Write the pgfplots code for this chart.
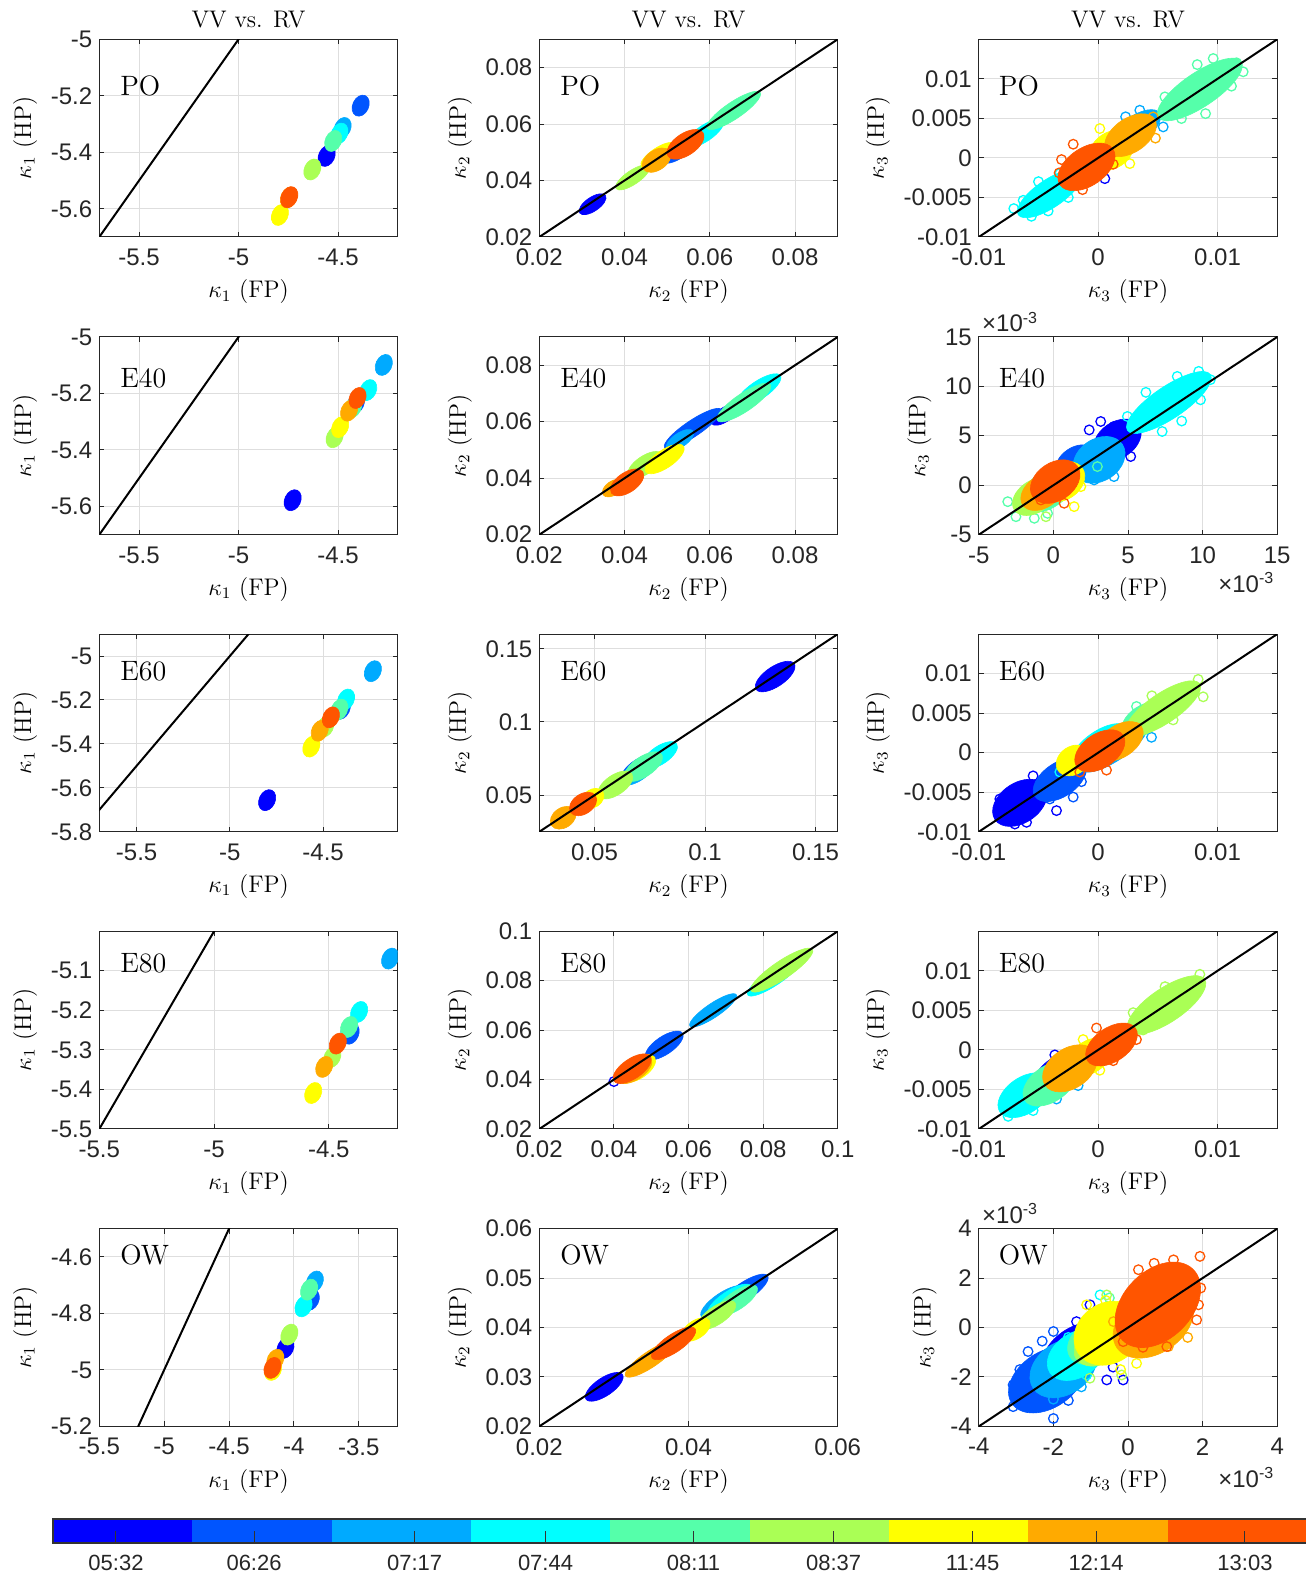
\documentclass[border=0pt]{standalone}
\usepackage{pgfplots}
\pgfplotsset{compat=1.18}
\usepackage{fontspec}
\setsansfont{Liberation Sans}
\definecolor{c1}{RGB}{0,0,255}
\definecolor{c2}{RGB}{0,85,255}
\definecolor{c3}{RGB}{0,170,255}
\definecolor{c4}{RGB}{0,255,255}
\definecolor{c5}{RGB}{85,255,170}
\definecolor{c6}{RGB}{170,255,85}
\definecolor{c7}{RGB}{255,255,0}
\definecolor{c8}{RGB}{255,170,0}
\definecolor{c9}{RGB}{255,85,0}
\tikzset{plab/.style={anchor=base west, inner sep=0pt, font=\fontsize{14}{14}\selectfont}}
\pgfplotsset{
  base/.style={
    scale only axis, width=149.2pt, height=98.85pt, anchor=south west,
    clip mode=individual,
    axis line style={draw=black!85, line width=0.5pt},
    grid=major, major grid style={draw=black!13, line width=0.5pt},
    tick align=inside, major tick length=2.5pt,
    tick style={draw=black!85, line width=0.5pt},
    tick label style={font=\sffamily\fontsize{12}{12}\selectfont, text=black!85},
    xticklabel style={yshift=-2.5pt},
    label style={font=\fontsize{12}{13}\selectfont},
    every axis title/.style={at={(0.5,1)}, anchor=base, yshift=6pt, font=\fontsize{12}{13}\selectfont},
    scaled ticks=false, clip marker paths=true,
  },
  cl/.style n args={4}{only marks, mark=*, mark size=1pt,
    mark options={draw=#1, fill=#1, line width=0.3pt, rotate=#2, xscale=#3, yscale=#4}},
  k1/.style={cl={#1}{65}{5.5}{4}},
  rg/.style={only marks, mark=o, mark size=2.4pt, mark options={draw=#1, line width=0.65pt}},
  diag/.style={black, line width=1pt},
}
\newcommand{\xten}[1]{\node[anchor=base east, inner sep=0pt, font=\sffamily\fontsize{12}{12}\selectfont, text=black!85] at (rel axis cs:0.9916,0) [yshift=#1] {×10\textsuperscript{-3}};
\node[anchor=base west, inner sep=0pt, font=\sffamily\fontsize{12}{12}\selectfont, text=black!85] at (rel axis cs:0.01,1) [yshift=2.5pt] {×10\textsuperscript{-3}};}
\begin{document}
\begin{tikzpicture}
% ================= ROW 1 : PO =================
\begin{axis}[base, at={(49.65pt,669.5pt)}, title={VV vs. RV},
  xmin=-5.7, xmax=-4.2, ymin=-5.7, ymax=-5,
  xtick={-5.5,-5,-4.5}, xticklabels={-5.5,-5,-4.5},
  ytick={-5.6,-5.4,-5.2,-5}, yticklabels={-5.6,-5.4,-5.2,-5},
  xlabel={$\kappa_1$ (FP)}, ylabel={$\kappa_1$ (HP)}]
\addplot[k1=c1] coordinates {(-4.557,-5.413)};
\addplot[k1=c2] coordinates {(-4.386,-5.235)};
\addplot[k1=c3] coordinates {(-4.477,-5.314)};
\addplot[k1=c4] coordinates {(-4.493,-5.334)};
\addplot[k1=c5] coordinates {(-4.524,-5.360)};
\addplot[k1=c6] coordinates {(-4.629,-5.461)};
\addplot[k1=c7] coordinates {(-4.792,-5.622)};
\addplot[k1=c8] coordinates {(-4.747,-5.560)};
\addplot[k1=c9] coordinates {(-4.745,-5.559)};
\addplot[diag] coordinates {(-6,-6) (-4,-4)};
\node[plab] at (rel axis cs:0.069,0.715) {PO};
\end{axis}
\begin{axis}[base, at={(269.65pt,669.5pt)}, title={VV vs. RV},
  xmin=0.02, xmax=0.09, ymin=0.02, ymax=0.09,
  xtick={0.02,0.04,0.06,0.08}, xticklabels={0.02,0.04,0.06,0.08},
  ytick={0.02,0.04,0.06,0.08}, yticklabels={0.02,0.04,0.06,0.08},
  xlabel={$\kappa_2$ (FP)}, ylabel={$\kappa_2$ (HP)}]
\addplot[cl={c1}{34}{7.8}{3.5}] coordinates {(0.0325,0.0316)};
\addplot[cl={c2}{34}{10}{4}] coordinates {(0.0527,0.0507)};
\addplot[cl={c3}{34}{10}{4}] coordinates {(0.0551,0.0531)};
\addplot[cl={c4}{34}{11}{4}] coordinates {(0.0588,0.0567)};
\addplot[cl={c5}{34}{16}{4.2}] coordinates {(0.0656,0.0648)};
\addplot[cl={c6}{34}{10}{3.5}] coordinates {(0.0419,0.0411)};
\addplot[cl={c7}{34}{10}{3.5}] coordinates {(0.0478,0.0490)};
\addplot[cl={c8}{34}{8}{5}] coordinates {(0.0475,0.0472)};
\addplot[cl={c9}{34}{10.5}{5.5}] coordinates {(0.0543,0.0528)};
\addplot[diag] coordinates {(0,0) (0.2,0.2)};
\node[plab] at (rel axis cs:0.069,0.715) {PO};
\end{axis}
\begin{axis}[base, at={(489.4pt,669.5pt)}, title={VV vs. RV},
  xmin=-0.01, xmax=0.015, ymin=-0.01, ymax=0.015,
  xtick={-0.01,0,0.01}, xticklabels={-0.01,0,0.01},
  ytick={-0.01,-0.005,0,0.005,0.01}, yticklabels={-0.01,-0.005,0,0.005,0.01},
  xlabel={$\kappa_3$ (FP)}, ylabel={$\kappa_3$ (HP)}]
\addplot[cl={c1}{34}{12}{6}] coordinates {(-0.00098,-0.00072)};
\addplot[rg=c1] coordinates {(0.00056,-0.00262)};
\addplot[cl={c2}{34}{12}{6}] coordinates {(0.0025,0.0025)};
\addplot[cl={c3}{34}{14}{6.5}] coordinates {(0.0032,0.0037)};
\addplot[rg=c3] coordinates {(0.00545,0.00392) (0.00349,0.00603) (0.00230,0.00520)};
\addplot[cl={c4}{34}{19}{7}] coordinates {(-0.00405,-0.00451)};
\addplot[rg=c4] coordinates {(-0.00707,-0.00641) (-0.00559,-0.00738) (-0.00419,-0.00671) (-0.00628,-0.00536) (-0.00321,-0.00198) (-0.00500,-0.00300) (-0.00250,-0.00500)};
\addplot[cl={c5}{34}{25}{8.5}] coordinates {(0.00852,0.00865)};
\addplot[rg=c5] coordinates {(0.01159,0.01203) (0.01117,0.00907) (0.00698,0.00498) (0.00559,0.00772) (0.00964,0.01257) (0.01215,0.01089) (0.00830,0.01180) (0.00900,0.00560)};
\addplot[cl={c6}{34}{10}{5}] coordinates {(0.0010,0.0015)};
\addplot[cl={c7}{34}{12}{9}] coordinates {(0.00112,0.00097)};
\addplot[rg=c7] coordinates {(0.00014,0.00371) (0.00265,-0.00072)};
\addplot[cl={c8}{34}{14.5}{8.5}] coordinates {(0.00271,0.00287)};
\addplot[rg=c8] coordinates {(0.00461,0.00519) (0.00480,0.00250)};
\addplot[cl={c9}{34}{16}{9.5}] coordinates {(-0.00098,-0.00114)};
\addplot[rg=c9] coordinates {(-0.00307,-0.00021) (-0.00131,-0.00401) (-0.00209,0.00173) (0.00126,-0.0008) (-0.00327,-0.0019)};
\addplot[diag] coordinates {(-0.02,-0.02) (0.02,0.02)};
\node[plab] at (rel axis cs:0.066,0.715) {PO};
\end{axis}
% ================= ROW 2 : E40 =================
\begin{axis}[base, at={(49.65pt,520.65pt)},
  xmin=-5.7, xmax=-4.2, ymin=-5.7, ymax=-5,
  xtick={-5.5,-5,-4.5}, xticklabels={-5.5,-5,-4.5},
  ytick={-5.6,-5.4,-5.2,-5}, yticklabels={-5.6,-5.4,-5.2,-5},
  xlabel={$\kappa_1$ (FP)}, ylabel={$\kappa_1$ (HP)}]
\addplot[k1=c1] coordinates {(-4.728,-5.578)};
\addplot[k1=c2] coordinates {(-4.410,-5.235)};
\addplot[k1=c3] coordinates {(-4.270,-5.099)};
\addplot[k1=c4] coordinates {(-4.348,-5.188)};
\addplot[k1=c5] coordinates {(-4.424,-5.249)};
\addplot[k1=c6] coordinates {(-4.517,-5.355)};
\addplot[k1=c7] coordinates {(-4.489,-5.319)};
\addplot[k1=c8] coordinates {(-4.444,-5.261)};
\addplot[k1=c9] coordinates {(-4.402,-5.216)};
\addplot[diag] coordinates {(-6,-6) (-4,-4)};
\node[plab] at (rel axis cs:0.069,0.747) {E40};
\end{axis}
\begin{axis}[base, at={(269.65pt,520.65pt)},
  xmin=0.02, xmax=0.09, ymin=0.02, ymax=0.09,
  xtick={0.02,0.04,0.06,0.08}, xticklabels={0.02,0.04,0.06,0.08},
  ytick={0.02,0.04,0.06,0.08}, yticklabels={0.02,0.04,0.06,0.08},
  xlabel={$\kappa_2$ (FP)}, ylabel={$\kappa_2$ (HP)}]
\addplot[cl={c1}{34}{8}{3.5}] coordinates {(0.0635,0.0625)};
\addplot[cl={c2}{34}{17}{4}] coordinates {(0.0560,0.0576)};
\addplot[cl={c3}{34}{8}{3.5}] coordinates {(0.0530,0.0535)};
\addplot[cl={c4}{34}{13}{4.5}] coordinates {(0.0715,0.0712)};
\addplot[cl={c5}{34}{16}{4.5}] coordinates {(0.0680,0.0668)};
\addplot[cl={c6}{34}{10}{4.5}] coordinates {(0.0448,0.0447)};
\addplot[cl={c7}{34}{11.4}{4.5}] coordinates {(0.0494,0.0468)};
\addplot[cl={c8}{34}{6}{3.5}] coordinates {(0.0373,0.0365)};
\addplot[cl={c9}{34}{9.5}{5}] coordinates {(0.0406,0.0385)};
\addplot[diag] coordinates {(0,0) (0.2,0.2)};
\node[plab] at (rel axis cs:0.069,0.747) {E40};
\end{axis}
\begin{axis}[base, at={(489.4pt,520.65pt)},
  xmin=-5, xmax=15, ymin=-5, ymax=15,
  xtick={-5,0,5,10,15}, xticklabels={-5,0,5,10,15},
  ytick={-5,0,5,10,15}, yticklabels={-5,0,5,10,15},
  xlabel={$\kappa_3$ (FP)}, ylabel={$\kappa_3$ (HP)}]
\addplot[cl={c1}{34}{13}{9}] coordinates {(4.29,4.59)};
\addplot[rg=c1] coordinates {(3.17,6.45) (5.18,2.91) (4.06,5.95) (4.73,3.92) (2.40,5.60)};
\addplot[cl={c2}{34}{10}{6}] coordinates {(1.39,2.57)};
\addplot[cl={c3}{34}{14}{10.5}] coordinates {(3.06,2.57)};
\addplot[rg=c3] coordinates {(2.73,0.54) (4.06,0.88)};
\addplot[cl={c4}{34}{25}{8}] coordinates {(7.74,8.38)};
\addplot[rg=c4] coordinates {(9.74,11.52) (10.52,10.68) (8.30,11.01) (7.29,5.44) (5.62,5.78) (4.96,6.96) (9.86,8.65) (6.20,9.40) (8.60,6.50)};
\addplot[cl={c5}{34}{15}{9}] coordinates {(-0.39,-0.47)};
\addplot[rg=c5] coordinates {(-3.06,-1.66) (-2.51,-3.18) (-1.28,-3.34) (2.95,1.89) (-0.39,-2.84)};
\addplot[cl={c6}{34}{12}{8}] coordinates {(-1.28,-1.15)};
\addplot[rg=c6] coordinates {(-0.50,-3.18)};
\addplot[cl={c7}{34}{12}{9}] coordinates {(0.61,0.37)};
\addplot[rg=c7] coordinates {(1.39,-2.16) (1.84,-0.14)};
\addplot[cl={c8}{34}{12}{8}] coordinates {(-0.72,-0.64)};
\addplot[cl={c9}{34}{13.5}{9.5}] coordinates {(0.12,0.37)};
\addplot[rg=c9] coordinates {(-0.84,-1.49) (0.72,-1.82)};
\addplot[diag] coordinates {(-10,-10) (20,20)};
\node[plab] at (rel axis cs:0.066,0.747) {E40};
\xten{-29pt}
\end{axis}
% ================= ROW 3 : E60 =================
\begin{axis}[base, at={(49.65pt,372.1pt)},
  xmin=-5.7, xmax=-4.1, ymin=-5.8, ymax=-4.9,
  xtick={-5.5,-5,-4.5}, xticklabels={-5.5,-5,-4.5},
  ytick={-5.8,-5.6,-5.4,-5.2,-5}, yticklabels={-5.8,-5.6,-5.4,-5.2,-5},
  xlabel={$\kappa_1$ (FP)}, ylabel={$\kappa_1$ (HP)}]
\addplot[k1=c1] coordinates {(-4.800,-5.656)};
\addplot[k1=c2] coordinates {(-4.400,-5.240)};
\addplot[k1=c3] coordinates {(-4.233,-5.069)};
\addplot[k1=c4] coordinates {(-4.377,-5.198)};
\addplot[k1=c5] coordinates {(-4.413,-5.244)};
\addplot[k1=c6] coordinates {(-4.488,-5.321)};
\addplot[k1=c7] coordinates {(-4.563,-5.412)};
\addplot[k1=c8] coordinates {(-4.518,-5.340)};
\addplot[k1=c9] coordinates {(-4.458,-5.279)};
\addplot[diag] coordinates {(-6,-6) (-4,-4)};
\node[plab] at (rel axis cs:0.069,0.765) {E60};
\end{axis}
\begin{axis}[base, at={(269.65pt,372.1pt)},
  xmin=0.025, xmax=0.16, ymin=0.025, ymax=0.16,
  xtick={0.05,0.1,0.15}, xticklabels={0.05,0.1,0.15},
  ytick={0.05,0.1,0.15}, yticklabels={0.05,0.1,0.15},
  xlabel={$\kappa_2$ (FP)}, ylabel={$\kappa_2$ (HP)}]
\addplot[cl={c1}{34}{11.5}{5}] coordinates {(0.1317,0.1310)};
\addplot[cl={c2}{34}{10}{4}] coordinates {(0.0700,0.0690)};
\addplot[cl={c3}{34}{10}{4.5}] coordinates {(0.0695,0.0660)};
\addplot[cl={c4}{34}{10}{4.5}] coordinates {(0.0797,0.0774)};
\addplot[cl={c5}{34}{11}{5}] coordinates {(0.0721,0.0695)};
\addplot[cl={c6}{34}{10}{5}] coordinates {(0.0594,0.0570)};
\addplot[cl={c7}{34}{6}{4.5}] coordinates {(0.0492,0.0478)};
\addplot[cl={c8}{34}{7}{5}] coordinates {(0.0358,0.0346)};
\addplot[cl={c9}{34}{7.5}{5}] coordinates {(0.0448,0.0440)};
\addplot[diag] coordinates {(0,0) (0.2,0.2)};
\node[plab] at (rel axis cs:0.069,0.765) {E60};
\end{axis}
\begin{axis}[base, at={(489.4pt,372.1pt)},
  xmin=-0.01, xmax=0.015, ymin=-0.01, ymax=0.015,
  xtick={-0.01,0,0.01}, xticklabels={-0.01,0,0.01},
  ytick={-0.01,-0.005,0,0.005,0.01}, yticklabels={-0.01,-0.005,0,0.005,0.01},
  xlabel={$\kappa_3$ (FP)}, ylabel={$\kappa_3$ (HP)}]
\addplot[cl={c1}{34}{15}{10}] coordinates {(-0.00656,-0.00634)};
\addplot[rg=c1] coordinates {(-0.00824,-0.00585) (-0.00698,-0.00902) (-0.00349,-0.00732) (-0.00768,-0.00805) (-0.00545,-0.00293) (-0.00600,-0.00880)};
\addplot[cl={c2}{34}{15}{8.5}] coordinates {(-0.00321,-0.00341)};
\addplot[rg=c2] coordinates {(-0.00209,-0.00561) (-0.00405,-0.00585) (-0.0014,-0.00366)};
\addplot[cl={c3}{34}{20}{7}] coordinates {(0.00126,0.00073)};
\addplot[rg=c3] coordinates {(0.00447,0.00195)};
\addplot[cl={c4}{34}{16}{7}] coordinates {(0.00014,0.00098)};
\addplot[rg=c4] coordinates {(-0.00321,-0.00244) (0.00321,0.00244)};
\addplot[cl={c5}{34}{12}{7}] coordinates {(0.00377,0.00415)};
\addplot[rg=c5] coordinates {(0.00321,0.00585)};
\addplot[cl={c6}{34}{22}{7.5}] coordinates {(0.00545,0.00561)};
\addplot[rg=c6] coordinates {(0.00838,0.00927) (0.00684,0.00732) (0.0088,0.00707) (0.00628,0.00415) (0.00450,0.00720)};
\addplot[cl={c7}{34}{9}{7}] coordinates {(-0.0021,-0.00098)};
\addplot[rg=c7] coordinates {(-0.00251,-0.00122)};
\addplot[cl={c8}{34}{13}{8}] coordinates {(0.00182,0.00146)};
\addplot[rg=c8] coordinates {(0.00321,0.00317)};
\addplot[cl={c9}{34}{14}{8.5}] coordinates {(0.00014,0.00024)};
\addplot[rg=c9] coordinates {(-0.00154,-0.00244) (0.0007,-0.0022)};
\addplot[diag] coordinates {(-0.02,-0.02) (0.02,0.02)};
\node[plab] at (rel axis cs:0.066,0.765) {E60};
\end{axis}
% ================= ROW 4 : E80 =================
\begin{axis}[base, at={(49.65pt,223.5pt)},
  xmin=-5.5, xmax=-4.2, ymin=-5.5, ymax=-5.0,
  xtick={-5.5,-5,-4.5}, xticklabels={-5.5,-5,-4.5},
  ytick={-5.5,-5.4,-5.3,-5.2,-5.1}, yticklabels={-5.5,-5.4,-5.3,-5.2,-5.1},
  xlabel={$\kappa_1$ (FP)}, ylabel={$\kappa_1$ (HP)}]
\addplot[k1=c1] coordinates {(-4.410,-5.250)};
\addplot[k1=c2] coordinates {(-4.405,-5.259)};
\addplot[k1=c3] coordinates {(-4.233,-5.069)};
\addplot[k1=c4] coordinates {(-4.368,-5.204)};
\addplot[k1=c5] coordinates {(-4.412,-5.242)};
\addplot[k1=c6] coordinates {(-4.485,-5.318)};
\addplot[k1=c7] coordinates {(-4.568,-5.409)};
\addplot[k1=c8] coordinates {(-4.520,-5.343)};
\addplot[k1=c9] coordinates {(-4.461,-5.284)};
\addplot[diag] coordinates {(-6,-6) (-4,-4)};
\node[plab] at (rel axis cs:0.069,0.793) {E80};
\end{axis}
\begin{axis}[base, at={(269.65pt,223.5pt)},
  xmin=0.02, xmax=0.1, ymin=0.02, ymax=0.1,
  xtick={0.02,0.04,0.06,0.08,0.1}, xticklabels={0.02,0.04,0.06,0.08,0.1},
  ytick={0.02,0.04,0.06,0.08,0.1}, yticklabels={0.02,0.04,0.06,0.08,0.1},
  xlabel={$\kappa_2$ (FP)}, ylabel={$\kappa_2$ (HP)}]
\addplot[cl={c1}{34}{8}{4}] coordinates {(0.0440,0.0435)};
\addplot[rg=c1] coordinates {(0.0400,0.0392)};
\addplot[cl={c2}{34}{11}{4.5}] coordinates {(0.0535,0.0538)};
\addplot[cl={c3}{34}{14}{3.5}] coordinates {(0.0666,0.0680)};
\addplot[cl={c4}{34}{16}{4}] coordinates {(0.0830,0.0815)};
\addplot[cl={c5}{34}{14}{4}] coordinates {(0.0840,0.0830)};
\addplot[cl={c6}{34}{18.5}{4.5}] coordinates {(0.0850,0.0843)};
\addplot[cl={c7}{34}{10}{5}] coordinates {(0.0465,0.0445)};
\addplot[cl={c8}{34}{10}{5}] coordinates {(0.0455,0.0440)};
\addplot[cl={c9}{34}{11}{5}] coordinates {(0.0449,0.0444)};
\addplot[diag] coordinates {(0,0) (0.2,0.2)};
\node[plab] at (rel axis cs:0.069,0.793) {E80};
\end{axis}
\begin{axis}[base, at={(489.4pt,223.5pt)},
  xmin=-0.01, xmax=0.015, ymin=-0.01, ymax=0.015,
  xtick={-0.01,0,0.01}, xticklabels={-0.01,0,0.01},
  ytick={-0.01,-0.005,0,0.005,0.01}, yticklabels={-0.01,-0.005,0,0.005,0.01},
  xlabel={$\kappa_3$ (FP)}, ylabel={$\kappa_3$ (HP)}]
\addplot[cl={c1}{34}{12}{6}] coordinates {(-0.0035,-0.0025)};
\addplot[rg=c1] coordinates {(-0.00363,-0.00063)};
\addplot[cl={c2}{34}{12}{6}] coordinates {(-0.0030,-0.0030)};
\addplot[cl={c3}{34}{14}{7}] coordinates {(-0.0030,-0.0035)};
\addplot[rg=c3] coordinates {(-0.00349,-0.00621) (-0.00168,-0.00451)};
\addplot[cl={c4}{34}{15}{9}] coordinates {(-0.00615,-0.00573)};
\addplot[rg=c4] coordinates {(-0.00754,-0.0084) (-0.00712,-0.0067) (-0.00545,-0.00767) (-0.00640,-0.00420)};
\addplot[cl={c5}{34}{15}{9}] coordinates {(-0.00405,-0.00427)};
\addplot[rg=c5] coordinates {(-0.00321,-0.00524)};
\addplot[cl={c6}{34}{23}{8.5}] coordinates {(0.00573,0.00568)};
\addplot[rg=c6] coordinates {(0.00852,0.00956) (0.00768,0.00738) (0.00293,0.00471) (0.00377,0.00252) (0.00560,0.00800)};
\addplot[cl={c7}{34}{12}{8}] coordinates {(-0.0007,-0.00087)};
\addplot[rg=c7] coordinates {(0.00014,-0.00257) (-0.00126,0.00131)};
\addplot[cl={c8}{34}{15}{10}] coordinates {(-0.00237,-0.00233)};
\addplot[cl={c9}{34}{14.5}{8.5}] coordinates {(0.00112,0.00068)};
\addplot[rg=c9] coordinates {(-0.00014,0.00277) (0.00321,0.00131) (0.00126,-0.00136)};
\addplot[diag] coordinates {(-0.02,-0.02) (0.02,0.02)};
\node[plab] at (rel axis cs:0.066,0.793) {E80};
\end{axis}
% ================= ROW 5 : OW =================
\begin{axis}[base, at={(49.65pt,74.8pt)},
  xmin=-5.5, xmax=-3.2, ymin=-5.2, ymax=-4.5,
  xtick={-5.5,-5,-4.5,-4,-3.5}, xticklabels={-5.5,-5,-4.5,-4,-3.5},
  ytick={-5.2,-5,-4.8,-4.6}, yticklabels={-5.2,-5,-4.8,-4.6},
  xlabel={$\kappa_1$ (FP)}, ylabel={$\kappa_1$ (HP)}]
\addplot[k1=c1] coordinates {(-4.065,-4.922)};
\addplot[k1=c2] coordinates {(-3.870,-4.752)};
\addplot[k1=c3] coordinates {(-3.839,-4.687)};
\addplot[k1=c4] coordinates {(-3.926,-4.775)};
\addplot[k1=c5] coordinates {(-3.883,-4.716)};
\addplot[k1=c6] coordinates {(-4.035,-4.875)};
\addplot[k1=c7] coordinates {(-4.160,-5.000)};
\addplot[k1=c8] coordinates {(-4.143,-4.964)};
\addplot[k1=c9] coordinates {(-4.165,-4.993)};
\addplot[diag] coordinates {(-6,-6) (-4,-4)};
\node[plab] at (rel axis cs:0.069,0.818) {OW};
\end{axis}
\begin{axis}[base, at={(269.65pt,74.8pt)},
  xmin=0.02, xmax=0.06, ymin=0.02, ymax=0.06,
  xtick={0.02,0.04,0.06}, xticklabels={0.02,0.04,0.06},
  ytick={0.02,0.03,0.04,0.05,0.06}, yticklabels={0.02,0.03,0.04,0.05,0.06},
  xlabel={$\kappa_2$ (FP)}, ylabel={$\kappa_2$ (HP)}]
\addplot[cl={c1}{34}{11}{4.5}] coordinates {(0.0287,0.0280)};
\addplot[cl={c2}{34}{14}{4.5}] coordinates {(0.0475,0.0473)};
\addplot[cl={c3}{34}{13}{4.5}] coordinates {(0.0446,0.0452)};
\addplot[cl={c4}{34}{13}{4.5}] coordinates {(0.0455,0.0455)};
\addplot[cl={c5}{34}{12}{4.5}] coordinates {(0.0465,0.0455)};
\addplot[cl={c6}{34}{11}{4.5}] coordinates {(0.0438,0.0425)};
\addplot[cl={c7}{34}{8}{4.5}] coordinates {(0.0410,0.0396)};
\addplot[cl={c8}{34}{15}{4}] coordinates {(0.0349,0.0336)};
\addplot[cl={c9}{34}{13}{4.5}] coordinates {(0.0380,0.0368)};
\addplot[diag] coordinates {(0,0) (0.2,0.2)};
\node[plab] at (rel axis cs:0.069,0.818) {OW};
\end{axis}
\begin{axis}[base, at={(489.4pt,74.8pt)},
  xmin=-4, xmax=4, ymin=-4, ymax=4,
  xtick={-4,-2,0,2,4}, xticklabels={-4,-2,0,2,4},
  ytick={-4,-2,0,2,4}, yticklabels={-4,-2,0,2,4},
  xlabel={$\kappa_3$ (FP)}, ylabel={$\kappa_3$ (HP)}]
\addplot[cl={c1}{34}{19}{12}] coordinates {(-1.38,-0.97)};
\addplot[rg=c1] coordinates {(-1.02,0.92) (-0.13,-2.12) (-0.57,-2.12) (-1.38,0.24) (-0.40,-1.60)};
\addplot[cl={c2}{34}{21}{14}] coordinates {(-2.18,-2.12)};
\addplot[rg=c2] coordinates {(-3.08,-3.20) (-2.68,-2.73) (-2.00,-3.68) (-2.68,-0.97) (-2.00,-0.16) (-3.08,-2.32) (-2.45,-3.05) (-1.60,-2.95) (-2.30,-0.55) (-2.90,-1.70)};
\addplot[cl={c3}{34}{18}{13}] coordinates {(-1.74,-1.65)};
\addplot[rg=c3] coordinates {(-1.65,-1.51) (-2.18,-2.19) (-2.00,-2.90) (-1.25,-2.40)};
\addplot[cl={c4}{34}{16}{11}] coordinates {(-1.38,-1.11)};
\addplot[rg=c4] coordinates {(-0.75,1.32) (-1.11,-1.92) (-1.60,-0.40)};
\addplot[cl={c5}{34}{14}{10}] coordinates {(-0.93,-0.57)};
\addplot[rg=c5] coordinates {(-0.50,1.20)};
\addplot[cl={c6}{34}{14}{10}] coordinates {(-0.75,-0.64)};
\addplot[rg=c6] coordinates {(-1.02,-2.05) (-0.17,-1.92) (-0.57,1.32) (-1.30,-1.10)};
\addplot[cl={c7}{34}{18}{15}] coordinates {(-0.53,-0.23)};
\addplot[rg=c7] coordinates {(0.23,-1.45) (-1.11,0.92) (-0.60,1.10) (-0.20,-1.70)};
\addplot[cl={c8}{34}{22}{15}] coordinates {(0.68,0.18)};
\addplot[rg=c8] coordinates {(1.08,-0.77) (-0.39,0.24) (1.60,-0.40)};
\addplot[cl={c9}{45}{25}{17}] coordinates {(0.80,0.92)};
\addplot[rg=c9] coordinates {(1.93,2.88) (0.28,2.34) (1.89,0.92) (1.84,0.31) (1.04,-0.77) (-0.13,-0.57) (1.22,2.74) (0.70,2.60) (1.95,1.60) (0.40,-0.80)};
\addplot[diag] coordinates {(-10,-10) (10,10)};
\node[plab] at (rel axis cs:0.066,0.818) {OW};
\xten{-30.5pt}
\end{axis}
% ================= COLORBAR =================
\begin{axis}[scale only axis, width=627pt, height=12pt, anchor=south west, at={(26.5pt,16.5pt)},
  xmin=0, xmax=9, ymin=0, ymax=1,
  axis line style={draw=black!80, line width=0.6pt},
  ytick=\empty, xtick pos=bottom, tick align=inside, major tick length=6pt,
  tick style={draw=black!80, line width=0.5pt},
  xtick={0.452,1.443,2.595,3.535,4.597,5.603,6.600,7.486,8.555},
  xticklabels={05:32,06:26,07:17,07:44,08:11,08:37,11:45,12:14,13:03},
  tick label style={font=\sffamily\fontsize{11}{11}\selectfont, text=black!85},
  xticklabel style={yshift=-2.5pt},
  axis on top]
\addplot[fill=c1, draw=none] coordinates {(0,1) (1,1)} \closedcycle;
\addplot[fill=c2, draw=none] coordinates {(1,1) (2,1)} \closedcycle;
\addplot[fill=c3, draw=none] coordinates {(2,1) (3,1)} \closedcycle;
\addplot[fill=c4, draw=none] coordinates {(3,1) (4,1)} \closedcycle;
\addplot[fill=c5, draw=none] coordinates {(4,1) (5,1)} \closedcycle;
\addplot[fill=c6, draw=none] coordinates {(5,1) (6,1)} \closedcycle;
\addplot[fill=c7, draw=none] coordinates {(6,1) (7,1)} \closedcycle;
\addplot[fill=c8, draw=none] coordinates {(7,1) (8,1)} \closedcycle;
\addplot[fill=c9, draw=none] coordinates {(8,1) (9,1)} \closedcycle;
\end{axis}
\pgfresetboundingbox
\useasboundingbox (0,0) rectangle (653pt,788pt);
\end{tikzpicture}
\end{document}
